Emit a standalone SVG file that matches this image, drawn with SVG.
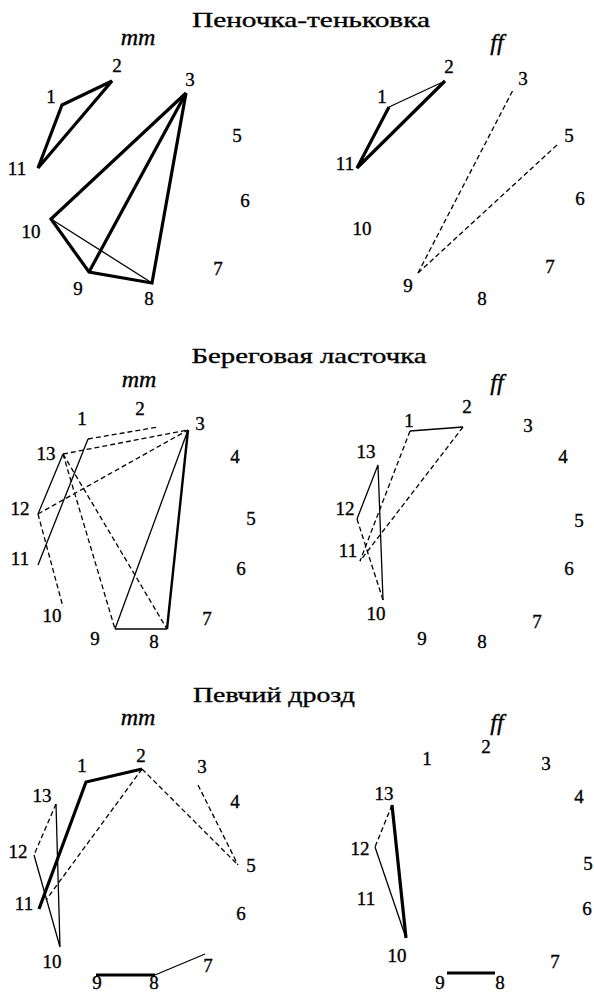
<svg xmlns="http://www.w3.org/2000/svg" width="594" height="995" viewBox="0 0 594 995">
<style>
text{font-family:"Liberation Serif",serif;fill:#000;stroke:#000;stroke-width:0.35}
.t{font-size:22px;text-anchor:middle}
.n{font-size:19px;text-anchor:middle}
.it{font-size:24px;font-style:italic;text-anchor:middle}
.thick{stroke:#000;stroke-width:3.2;fill:none;stroke-linejoin:miter}
.med{stroke:#000;stroke-width:2.4;fill:none}
.thin{stroke:#000;stroke-width:1.3;fill:none}
.dash{stroke:#000;stroke-width:1.3;fill:none;stroke-dasharray:5 3}
</style>
<rect width="594" height="995" fill="#fff"/>
<g id="titles">
<text class="t" x="311" y="27" textLength="238" lengthAdjust="spacingAndGlyphs">Пеночка-теньковка</text>
<text class="t" x="309" y="363" textLength="235" lengthAdjust="spacingAndGlyphs">Береговая ласточка</text>
<text class="t" x="274" y="702" textLength="162" lengthAdjust="spacingAndGlyphs">Певчий дрозд</text>
</g>
<g id="connectors">
<g id="c-a">
<polygon class="thick" points="62,105 112,81 38,168"/>
<polyline class="thick" points="186,93 51,219 89,272 152,283 186,93"/>
<line class="thick" x1="186" y1="93" x2="89" y2="272"/>
<line class="thin" x1="51" y1="219" x2="152" y2="283"/>
</g>
<g id="c-b">
<line class="thin" x1="389" y1="107" x2="445" y2="81"/>
<polyline class="thick" points="389,107 357,168 445,81"/>
<line class="dash" x1="418" y1="273" x2="513" y2="90"/>
<line class="dash" x1="418" y1="273" x2="557" y2="145"/>
</g>
<g id="c-c">
<line class="dash" x1="88" y1="439" x2="158" y2="427"/>
<line class="dash" x1="63" y1="454" x2="188" y2="430"/>
<line class="dash" x1="38" y1="514" x2="188" y2="430"/>
<line class="dash" x1="38" y1="514" x2="63" y2="607"/>
<line class="dash" x1="63" y1="454" x2="115" y2="629"/>
<line class="dash" x1="63" y1="454" x2="167" y2="629"/>
<line class="thin" x1="63" y1="454" x2="38" y2="514"/>
<line class="thin" x1="88" y1="439" x2="38" y2="565"/>
<line class="thin" x1="115" y1="629" x2="188" y2="430"/>
<line class="thin" x1="115" y1="629" x2="167" y2="629"/>
<line class="med" x1="167" y1="629" x2="188" y2="430"/>
</g>
<g id="c-d">
<line class="thin" x1="410" y1="431" x2="463" y2="427"/>
<polyline class="thin" points="357,519 378,465 383,600"/>
<line class="dash" x1="410" y1="431" x2="360" y2="561"/>
<line class="dash" x1="463" y1="427" x2="360" y2="561"/>
<line class="dash" x1="357" y1="519" x2="383" y2="600"/>
</g>
<g id="c-e">
<polyline class="thick" points="39,909 86,782 142,769"/>
<line class="dash" x1="142" y1="769" x2="238" y2="865"/>
<line class="dash" x1="198" y1="785" x2="238" y2="865"/>
<line class="dash" x1="142" y1="769" x2="46" y2="900"/>
<line class="dash" x1="56" y1="804" x2="34" y2="855"/>
<polyline class="thin" points="34,855 60,947 56,804"/>
<line class="thick" x1="96" y1="975" x2="155" y2="975"/>
<line class="thin" x1="155" y1="975" x2="205" y2="954"/>
</g>
<g id="c-f">
<line class="dash" x1="392" y1="805" x2="375" y2="847"/>
<line class="thin" x1="375" y1="847" x2="406" y2="938"/>
<line class="thick" x1="392" y1="805" x2="406" y2="938"/>
<line class="thick" x1="447" y1="973" x2="495" y2="973"/>
</g>
</g>
<g id="panel-a">
<text class="it" x="138" y="45">mm</text>
<g id="a1"><text class="n" x="51" y="103">1</text></g>
<g id="a2"><text class="n" x="117" y="72">2</text></g>
<g id="a3"><text class="n" x="190" y="86">3</text></g>
<g id="a5"><text class="n" x="237" y="142">5</text></g>
<g id="a6"><text class="n" x="245" y="207">6</text></g>
<g id="a7"><text class="n" x="218" y="275">7</text></g>
<g id="a8"><text class="n" x="149" y="305">8</text></g>
<g id="a9"><text class="n" x="78" y="295">9</text></g>
<g id="a10"><text class="n" x="31" y="238">10</text></g>
<g id="a11"><text class="n" x="17" y="175">11</text></g>
</g>
<g id="panel-b">
<text class="it" x="497" y="50">ff</text>
<g id="b1"><text class="n" x="382" y="103">1</text></g>
<g id="b2"><text class="n" x="449" y="73">2</text></g>
<g id="b3"><text class="n" x="523" y="85">3</text></g>
<g id="b5"><text class="n" x="569" y="142">5</text></g>
<g id="b6"><text class="n" x="580" y="205">6</text></g>
<g id="b7"><text class="n" x="550" y="273">7</text></g>
<g id="b8"><text class="n" x="482" y="305">8</text></g>
<g id="b9"><text class="n" x="408" y="292">9</text></g>
<g id="b10"><text class="n" x="362" y="235">10</text></g>
<g id="b11"><text class="n" x="345" y="170">11</text></g>
</g>
<g id="panel-c">
<text class="it" x="139" y="387">mm</text>
<g id="c1"><text class="n" x="82" y="425">1</text></g>
<g id="c2"><text class="n" x="140" y="415">2</text></g>
<g id="c3"><text class="n" x="200" y="430">3</text></g>
<g id="c4"><text class="n" x="235" y="463">4</text></g>
<g id="c5"><text class="n" x="251" y="525">5</text></g>
<g id="c6"><text class="n" x="241" y="575">6</text></g>
<g id="c7"><text class="n" x="207" y="625">7</text></g>
<g id="c8"><text class="n" x="154" y="648">8</text></g>
<g id="c9"><text class="n" x="95" y="645">9</text></g>
<g id="c10"><text class="n" x="52" y="622">10</text></g>
<g id="c11"><text class="n" x="20" y="565">11</text></g>
<g id="c12"><text class="n" x="20" y="515">12</text></g>
<g id="c13"><text class="n" x="46" y="460">13</text></g>
</g>
<g id="panel-d">
<text class="it" x="497" y="390">ff</text>
<g id="d1"><text class="n" x="409" y="427">1</text></g>
<g id="d2"><text class="n" x="467" y="413">2</text></g>
<g id="d3"><text class="n" x="528" y="432">3</text></g>
<g id="d4"><text class="n" x="563" y="463">4</text></g>
<g id="d5"><text class="n" x="579" y="527">5</text></g>
<g id="d6"><text class="n" x="569" y="575">6</text></g>
<g id="d7"><text class="n" x="537" y="628">7</text></g>
<g id="d8"><text class="n" x="482" y="648">8</text></g>
<g id="d9"><text class="n" x="422" y="645">9</text></g>
<g id="d10"><text class="n" x="376" y="620">10</text></g>
<g id="d11"><text class="n" x="348" y="557">11</text></g>
<g id="d12"><text class="n" x="345" y="515">12</text></g>
<g id="d13"><text class="n" x="366" y="458">13</text></g>
</g>
<g id="panel-e">
<text class="it" x="138" y="725">mm</text>
<g id="e1"><text class="n" x="82" y="772">1</text></g>
<g id="e2"><text class="n" x="141" y="762">2</text></g>
<g id="e3"><text class="n" x="202" y="773">3</text></g>
<g id="e4"><text class="n" x="235" y="808">4</text></g>
<g id="e5"><text class="n" x="251" y="872">5</text></g>
<g id="e6"><text class="n" x="241" y="920">6</text></g>
<g id="e7"><text class="n" x="208" y="972">7</text></g>
<g id="e8"><text class="n" x="154" y="989">8</text></g>
<g id="e9"><text class="n" x="97" y="989">9</text></g>
<g id="e10"><text class="n" x="52" y="968">10</text></g>
<g id="e11"><text class="n" x="24" y="910">11</text></g>
<g id="e12"><text class="n" x="18" y="858">12</text></g>
<g id="e13"><text class="n" x="42" y="802">13</text></g>
</g>
<g id="panel-f">
<text class="it" x="497" y="730">ff</text>
<g id="f1"><text class="n" x="427" y="765">1</text></g>
<g id="f2"><text class="n" x="486" y="753">2</text></g>
<g id="f3"><text class="n" x="546" y="770">3</text></g>
<g id="f4"><text class="n" x="579" y="803">4</text></g>
<g id="f5"><text class="n" x="588" y="870">5</text></g>
<g id="f6"><text class="n" x="587" y="915">6</text></g>
<g id="f7"><text class="n" x="555" y="968">7</text></g>
<g id="f8"><text class="n" x="500" y="989">8</text></g>
<g id="f9"><text class="n" x="440" y="989">9</text></g>
<g id="f10"><text class="n" x="397" y="962">10</text></g>
<g id="f11"><text class="n" x="366" y="905">11</text></g>
<g id="f12"><text class="n" x="360" y="855">12</text></g>
<g id="f13"><text class="n" x="384" y="800">13</text></g>
</g>
</svg>
